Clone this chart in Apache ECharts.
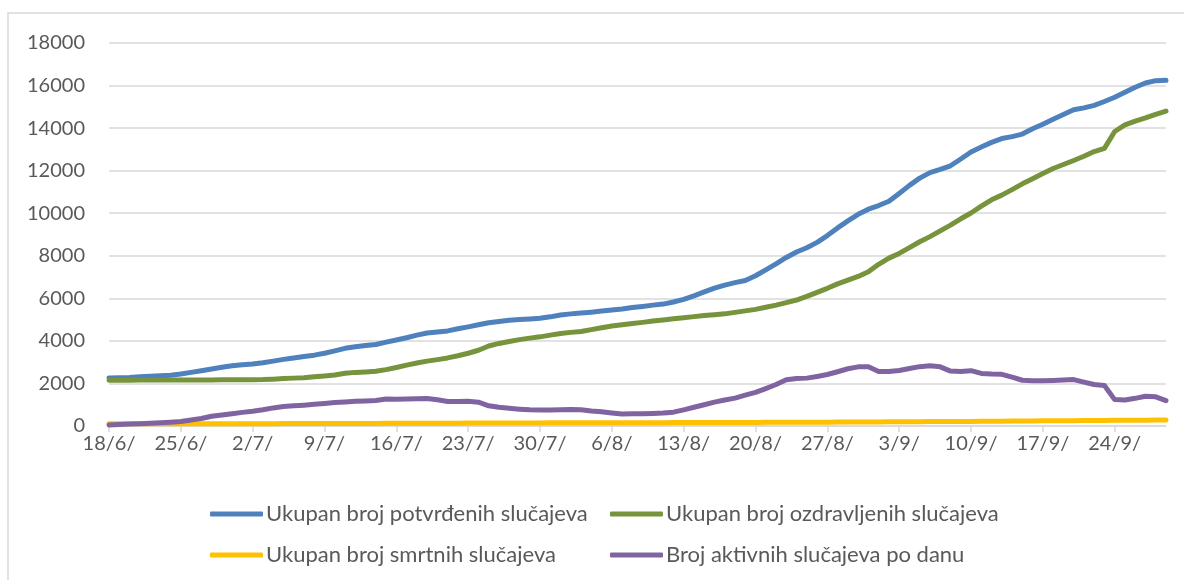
<!DOCTYPE html>
<html lang="hr">
<head>
    <meta charset="UTF-8">
    <script src="https://cdn.jsdelivr.net/npm/echarts/dist/echarts.min.js"></script>
    <style>
        body { margin: 0; background: #fff; }
    </style>
</head>
<body>
    <div id="chart" style="width: 1184px; height: 580px;"></div>
    <script>
        // ukupno potvrdeni (plava)
        var potvrdeni = [
            2258, 2269, 2280, 2310, 2336, 2366, 2388,
            2440, 2520, 2600, 2680, 2760, 2830, 2880,
            2910, 2970, 3050, 3130, 3200, 3270, 3330,
            3420, 3530, 3650, 3720, 3780, 3830, 3940,
            4040, 4150, 4270, 4370, 4420, 4470, 4570,
            4660, 4760, 4850, 4910, 4970, 5000, 5030,
            5060, 5130, 5220, 5270, 5310, 5350, 5400,
            5450, 5500, 5570, 5620, 5680, 5730, 5830,
            5950, 6120, 6300, 6480, 6620, 6740, 6840,
            7060, 7340, 7620, 7920, 8180, 8380, 8630,
            8950, 9310, 9640, 9950, 10190, 10360, 10560,
            10930, 11310, 11650, 11910, 12060, 12230, 12550,
            12880, 13110, 13330, 13510, 13600, 13720, 13970,
            14180, 14420, 14640, 14860, 14950, 15070, 15250,
            15450, 15690, 15920, 16120, 16230, 16250
        ]
        // ozdravljeni (zelena)
        var ozdravljeni = [
            2150, 2155, 2155, 2158, 2160, 2160, 2160,
            2162, 2163, 2165, 2165, 2168, 2170, 2172,
            2175, 2180, 2200, 2230, 2250, 2270, 2310,
            2350, 2400, 2480, 2520, 2540, 2570, 2650,
            2750, 2860, 2960, 3050, 3120, 3200, 3300,
            3420, 3560, 3760, 3880, 3970, 4060, 4130,
            4190, 4270, 4350, 4400, 4440, 4530, 4620,
            4700, 4760, 4820, 4870, 4930, 4980, 5040,
            5090, 5140, 5190, 5230, 5270, 5340, 5410,
            5480, 5580, 5680, 5800, 5920, 6090, 6280,
            6470, 6680, 6860, 7030, 7250, 7600, 7890,
            8110, 8380, 8660, 8900, 9170, 9440, 9740,
            10010, 10330, 10630, 10850, 11110, 11380, 11620,
            11870, 12100, 12290, 12480, 12680, 12900, 13050,
            13840, 14150, 14330, 14480, 14650, 14800
        ]
        // smrtni (zuta)
        var smrtni = [
            107, 107, 107, 107, 107, 107, 107,
            107, 107, 107, 107, 107, 108, 109,
            109, 110, 111, 113, 113, 114, 115,
            116, 117, 119, 120, 121, 122, 124,
            126, 127, 128, 130, 131, 133, 134,
            136, 137, 139, 139, 141, 142, 143,
            146, 147, 147, 149, 151, 152, 153,
            155, 156, 156, 157, 157, 158, 159,
            160, 161, 163, 164, 165, 167, 168,
            170, 171, 173, 174, 175, 177, 179,
            180, 183, 185, 187, 190, 193, 196,
            198, 201, 204, 207, 209, 212, 214,
            217, 221, 224, 227, 230, 235, 239,
            242, 245, 249, 252, 255, 259, 263,
            266, 270, 273, 276, 278, 280
        ]
        // aktivni po danu (ljubicasta)
        var aktivni = [
            50, 70, 90, 110, 130, 150, 180,
            210, 280, 350, 460, 520, 580, 640,
            690, 760, 850, 920, 950, 980, 1020,
            1060, 1100, 1130, 1160, 1180, 1200, 1270,
            1260, 1270, 1280, 1290, 1230, 1150, 1150,
            1160, 1120, 950, 880, 830, 790, 760,
            750, 750, 760, 770, 760, 700, 670,
            610, 560, 570, 580, 590, 610, 650,
            760, 880, 1000, 1120, 1220, 1310, 1450,
            1580, 1760, 1950, 2170, 2230, 2250, 2330,
            2420, 2550, 2690, 2780, 2790, 2560, 2560,
            2610, 2700, 2790, 2830, 2780, 2580, 2560,
            2600, 2470, 2440, 2430, 2300, 2150, 2130,
            2130, 2140, 2160, 2180, 2060, 1950, 1900,
            1240, 1220, 1300, 1400, 1370, 1190
        ]

        var nazivi = [
            'Ukupan broj potvrđenih slučajeva',
            'Ukupan broj ozdravljenih slučajeva',
            'Ukupan broj smrtnih slučajeva',
            'Broj aktivnih slučajeva po danu'
        ]
        var boje = ['#4f81bd', '#77933c', '#ffc000', '#8064a2']

        // datumi od 18/6 nadalje, kao u excelu "18/6/"
        var datumi = []
        var d = new Date(2020, 5, 18)
        for (var i = 0; i < potvrdeni.length; i++) {
            datumi.push(d.getDate() + '/' + (d.getMonth() + 1) + '/')
            d.setDate(d.getDate() + 1)
        }

        var font = 'Lato, "Open Sans", sans-serif'
        var siva = '#595959'

        var myChart = echarts.init(document.getElementById('chart'))
        var serije = [potvrdeni, ozdravljeni, smrtni, aktivni]

        var option = {
            animation: false,
            backgroundColor: '#fff',
            graphic: [{
                type: 'rect',
                shape: { x: 8, y: 13, width: 1200, height: 620 },
                style: { fill: 'none', stroke: '#d9d9d9', lineWidth: 1.5 },
                silent: true
            }],
            grid: { left: 109, right: 18, top: 43, bottom: 154, containLabel: false },
            legend: [{
                orient: 'vertical',
                left: 205,
                top: 498,
                itemGap: 19,
                itemWidth: 53,
                itemHeight: 5,
                icon: 'roundRect',
                data: [nazivi[0], nazivi[2]],
                textStyle: { color: siva, fontSize: 22, fontFamily: font, padding: [0, 0, 0, -2] }
            }, {
                orient: 'vertical',
                left: 605,
                top: 498,
                itemGap: 19,
                itemWidth: 53,
                itemHeight: 5,
                icon: 'roundRect',
                data: [nazivi[1], nazivi[3]],
                textStyle: { color: siva, fontSize: 22, fontFamily: font, padding: [0, 0, 0, -2] }
            }],
            xAxis: {
                type: 'category',
                data: datumi,
                boundaryGap: false,
                axisLine: { lineStyle: { color: '#d9d9d9', width: 1.5 } },
                axisTick: { interval: 6, length: 6, lineStyle: { color: '#d9d9d9', width: 1.5 } },
                axisLabel: { interval: 6, color: siva, fontSize: 20, fontFamily: font, margin: 8 },
                splitLine: { show: false }
            },
            yAxis: {
                type: 'value',
                min: 0,
                max: 18000,
                interval: 2000,
                axisLine: { show: false },
                axisTick: { show: false },
                axisLabel: {
                    color: siva, fontSize: 20, fontFamily: font, margin: 24,
                    formatter: function (v) { return String(v) }
                },
                splitLine: { lineStyle: { color: '#d9d9d9', width: 1.5 } }
            },
            series: serije.map(function (vals, k) {
                return {
                    name: nazivi[k],
                    type: 'line',
                    data: vals,
                    showSymbol: false,
                    symbol: 'none',
                    color: boje[k],
                    lineStyle: { width: 5, color: boje[k], cap: 'round', join: 'round' },
                    z: 2 + k
                }
            })
        }
        myChart.setOption(option)
    </script>
</body>
</html>
